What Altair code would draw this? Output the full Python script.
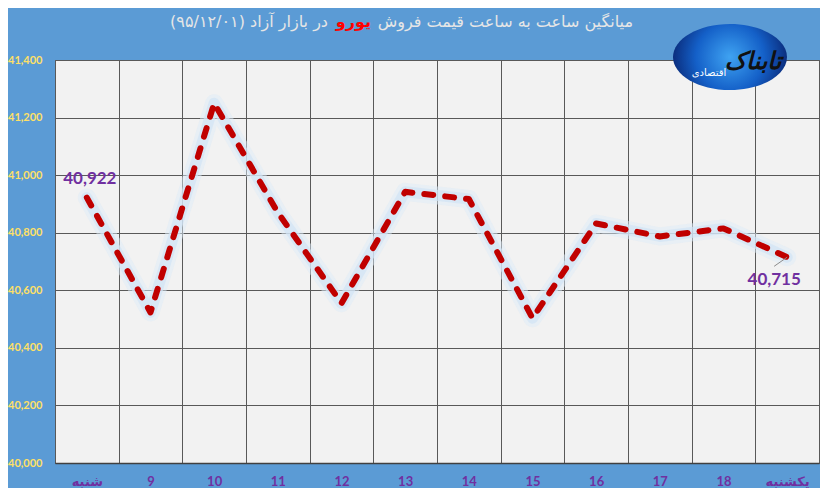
import altair as alt
import pandas as pd

# data
days = ['شنبه', '9', '10', '11', '12', '13', '14', '15', '16', '17', '18', 'یکشنبه']
prices = [40922, 40523, 41250, 40870, 40555, 40942, 40917, 40503, 40832, 40787, 40815, 40715]
y_ticks = [40000, 40200, 40400, 40600, 40800, 41000, 41200, 41400]
title_parts = ['میانگین ساعت به ساعت قیمت فروش', 'یورو', 'در بازار آزاد (۹۵/۱۲/۰۱)\u200f']
logo_texts = ['تابناک', 'اقتصادی']

df = pd.DataFrame({'day': days, 'price': prices})

x = alt.X('day:O', sort=days,
          scale=alt.Scale(type='band', paddingInner=0, paddingOuter=0),
          axis=alt.Axis(title=None, labelAngle=0, tickBand='extent', grid=True,
                        gridColor='#595959', gridWidth=1, ticks=False,
                        domainColor='#404040', domainWidth=1.5,
                        labelColor='#7030A0', labelFont='Lato, DejaVu Sans',
                        labelFontSize=13, labelFontWeight='bold', labelPadding=12))
y = alt.Y('price:Q',
          scale=alt.Scale(domain=[40000, 41400], nice=False, zero=False),
          axis=alt.Axis(title=None, values=y_ticks, format=',.0f', grid=True,
                        gridColor='#595959', gridWidth=1, ticks=False, domain=False,
                        labelColor='#FFE066', labelFont='Lato', labelFontSize=11,
                        labelFontWeight='bold', labelPadding=13))

base = alt.Chart(df).encode(x=x, y=y)

glow_wide = base.mark_line(color='#DDEBF7', strokeWidth=18, opacity=0.5,
                           strokeCap='round', strokeJoin='round')
glow = base.mark_line(color='#D2E4F5', strokeWidth=11, opacity=0.7,
                      strokeCap='round', strokeJoin='round')
dashed = base.mark_line(color='#C00000', strokeWidth=6, strokeDash=[9, 12],
                        strokeCap='round', strokeJoin='round')

first_label = base.transform_filter(alt.datum.day == days[0]).mark_text(
    font='Lato', fontSize=17, fontWeight='bold', color='#7030A0', dx=3, dy=-19
).encode(text=alt.Text('price:Q', format=','))

last_label = base.transform_filter(alt.datum.day == days[-1]).mark_text(
    font='Lato', fontSize=17, fontWeight='bold', color='#7030A0', dx=-13, dy=23
).encode(text=alt.Text('price:Q', format=','))

leader = base.transform_filter(alt.datum.day == days[-1]).mark_point(
    shape='M 0 0 L -1 0.7', size=676, filled=False, color='#8C8C8C', strokeWidth=1, opacity=1
)

# title pieces (right to left)
t1 = alt.Chart(pd.DataFrame({'t': [title_parts[0]]})).mark_text(
    font='DejaVu Sans', fontSize=16, color='#E6E6E6', align='right', baseline='middle'
).encode(text='t:N', x=alt.value(578), y=alt.value(-38))
t2 = alt.Chart(pd.DataFrame({'t': [title_parts[1]]})).mark_text(
    font='DejaVu Sans', fontSize=16, fontWeight='bold', color='#FF0000', align='right', baseline='middle'
).encode(text='t:N', x=alt.value(316), y=alt.value(-38))
t3 = alt.Chart(pd.DataFrame({'t': [title_parts[2]]})).mark_text(
    font='DejaVu Sans', fontSize=16, color='#E6E6E6', align='right', baseline='middle'
).encode(text='t:N', x=alt.value(273), y=alt.value(-38))

# logo
logo_bg = alt.Chart(pd.DataFrame({'a': [1]})).mark_point(
    shape='M -1 0 A 1 0.58 0 1 0 1 0 A 1 0.58 0 1 0 -1 0 Z', size=12996, filled=True, opacity=1,
    fill=alt.RadialGradient(gradient='radial', stops=[
        alt.GradientStop(offset=0, color='#3FA3F2'),
        alt.GradientStop(offset=0.6, color='#1460C8'),
        alt.GradientStop(offset=1, color='#0B2E7E')]),
    strokeWidth=0
).encode(x=alt.value(675), y=alt.value(-3))
logo_main = alt.Chart(pd.DataFrame({'t': [logo_texts[0]]})).mark_text(
    font='DejaVu Sans', fontSize=24, fontWeight='bold', color='#111111', fontStyle='italic'
).encode(text='t:N', x=alt.value(698), y=alt.value(2))
logo_sub = alt.Chart(pd.DataFrame({'t': [logo_texts[1]]})).mark_text(
    font='DejaVu Sans', fontSize=10, color='#FFFFFF'
).encode(text='t:N', x=alt.value(654), y=alt.value(13))

chart = alt.layer(
    glow_wide, glow, dashed, leader, first_label, last_label,
    t1, t2, t3, logo_bg, logo_main, logo_sub
).properties(
    width=764, height=403,
    background='#5B9BD5',
    autosize=alt.AutoSizeParams(type='none'),
    padding={'left': 47, 'top': 52, 'right': 1, 'bottom': 25}
).configure_view(fill='#F2F2F2', stroke='#595959', strokeWidth=1)

chart.save("out.html", embed_options={"renderer": "svg", "actions": False})
